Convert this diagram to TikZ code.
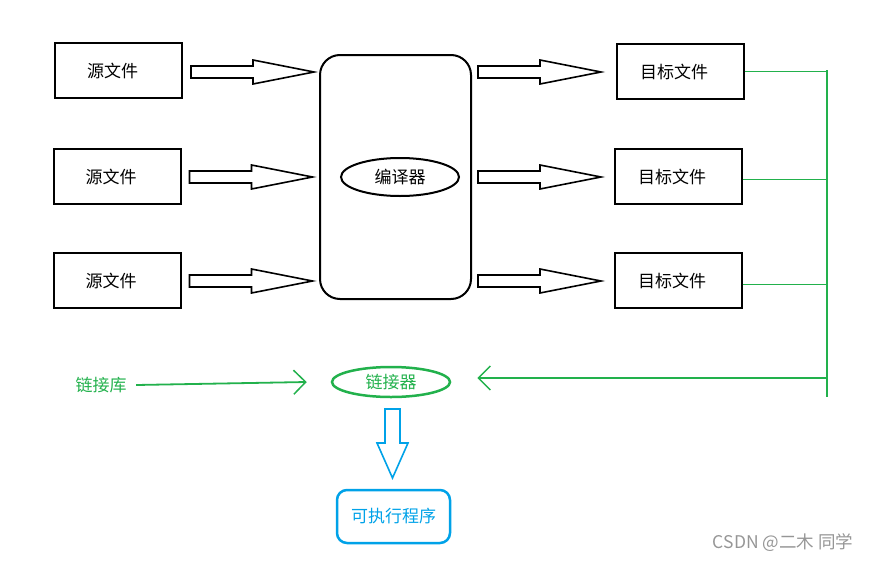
\documentclass[tikz,border=0pt]{standalone}
\usepackage{fontspec}
\newfontfamily\cjk{Noto Sans CJK SC}
\usetikzlibrary{arrows.meta,calc,shapes.geometric}
\definecolor{pgreen}{RGB}{34,177,76}
\definecolor{pblue}{RGB}{0,162,232}
\definecolor{wmgray}{RGB}{150,150,150}
\newcommand{\lsh}{\hspace*{-12pt}}
\tikzset{
  txt/.style={font=\cjk\fontsize{17}{19}\selectfont},
  filebox/.style={draw=black,line width=2pt,minimum width=127pt,minimum height=55pt,inner sep=0pt,txt},
  barrow/.style={draw=black,line width=1.6pt,fill=white,line join=miter},
  gline/.style={draw=pgreen,line width=1.8pt},
  barb/.style={-{Straight Barb[length=12pt,width=24pt,line width=1.5pt]}}
}
\begin{document}
\begin{tikzpicture}[x=1pt,y=-1pt]
\useasboundingbox (0,0) rectangle (875,562);
% source boxes
\node[filebox] (s1) at (118.5,70.5) {\lsh 源文件};
\node[filebox] (s2) at (117,176.5) {\lsh 源文件};
\node[filebox] (s3) at (117,280.5) {\lsh 源文件};
% compiler
\node[draw=black,line width=2pt,rounded corners=20pt,minimum width=151pt,minimum height=244pt] (comp) at (395.5,177) {};
\node[draw=black,line width=2pt,ellipse,minimum width=118pt,minimum height=38pt,inner sep=0pt,txt] (enc) at (400,177) {编译器};
% targets
\node[filebox] (t1) at (680,71.5) {\lsh 目标文件};
\node[filebox] (t2) at (678,176.5) {\lsh 目标文件};
\node[filebox] (t3) at (678,280.5) {\lsh 目标文件};
% block arrows (left)
\foreach \s/\y in {s1/72,s2/177,s3/281}{
  \draw[barrow] ($(\s.east |- 0,\y)+(8,0)$) -- ++(0,-6) -- ++(62,0) -- ++(0,-6) -- ++(61,12) -- ++(-61,12) -- ++(0,-6) -- ++(-62,0) -- cycle;
}
% block arrows (right)
\foreach \y in {72,177,281}{
  \draw[barrow] ($(comp.east |- 0,\y)+(6,0)$) -- ++(0,-6) -- ++(62,0) -- ++(0,-6) -- ++(61,12) -- ++(-61,12) -- ++(0,-6) -- ++(-62,0) -- cycle;
}
% green bus
\coordinate (bustop) at (827,70);
\coordinate (busbot) at (827,397);
\coordinate (busarr) at (827,378);
\draw[gline] (bustop) -- (busbot);
\draw[gline] (t1.east) -- (t1.east -| bustop);
\draw[gline] ($(t2.east)+(0,3)$) -- ($(t2.east -| bustop)+(0,3)$);
\draw[gline] ($(t3.east)+(0,4)$) -- ($(t3.east -| bustop)+(0,4)$);
% linker
\node[draw=pgreen,line width=2.5pt,ellipse,minimum width=118pt,minimum height=30pt,inner sep=0pt,txt,text=pgreen] (link) at (391,382) {链接器};
\draw[gline,barb] (busarr) -- ($(link.east)+(26,-4)$);
\node[txt,text=pgreen] (lib) at (101,385) {链接库};
\draw[gline,barb] ($(lib.east)+(6,0)$) -- ($(link.west)+(-24,0)$);
% blue output arrow
\coordinate (dtop) at (392.5,409);
\draw[draw=pblue,line width=1.6pt,line join=miter] ($(dtop)+(-7.5,0)$) -- ++(15,0) -- ++(0,34) -- ++(8,0) -- (392.5,478) -- (377,443) -- ++(8,0) -- cycle;
\node[draw=pblue,line width=2.5pt,rounded corners=10pt,minimum width=113pt,minimum height=53pt,txt,text=pblue] (exe) at (393.5,516.5) {可执行程序};
% watermark
\node[font=\cjk\fontsize{17.5}{19}\selectfont,text=wmgray] (wm) at (783,543) {CSDN @二木 同学};
\end{tikzpicture}
\end{document}
